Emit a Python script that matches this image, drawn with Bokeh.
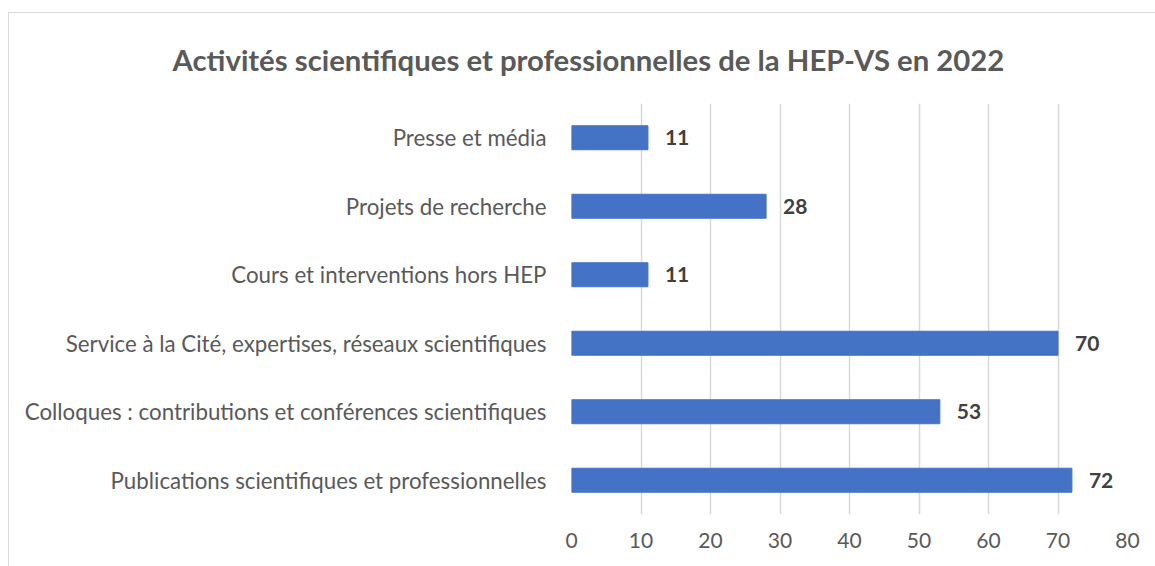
from bokeh.plotting import figure
from bokeh.models import ColumnDataSource, LabelSet, Range1d, FactorRange, FixedTicker
from bokeh.embed import file_html
from bokeh.resources import INLINE
from bokeh.core.properties import value

categories = [
    "Publications scientifiques et professionnelles",
    "Colloques : contributions et conférences scientifiques",
    "Service à la Cité, expertises, réseaux scientifiques",
    "Cours et interventions hors HEP",
    "Projets de recherche",
    "Presse et média",
]
values = [72, 53, 70, 11, 28, 11]
x_ticks = [0, 10, 20, 30, 40, 50, 60, 70, 80]
title_text = "Activités scientifiques et professionnelles de la HEP-VS en 2022"

FONT = "Lato"
src = ColumnDataSource(dict(cat=categories, val=values, lab=[str(v) for v in values]))

p = figure(
    width=1147, height=554,
    y_range=FactorRange(*categories, range_padding=0),
    x_range=Range1d(0, 80),
    output_backend="svg", toolbar_location=None,
    min_border_left=562, min_border_right=29, min_border_bottom=53, min_border_top=90,
)
p.styles = {"margin-top": "12px", "margin-left": "8px",
            "border-left": "1px solid #d9d9d9", "border-top": "1px solid #d9d9d9"}

p.title.text = title_text
p.title.align = "left"
p.title.offset = -399
p.title.vertical_align = "top"
p.title.text_font = FONT
p.title.text_font_size = "29.3px"
p.title.text_color = "#595959"
p.title.text_font_style = "bold"
p.title.standoff = 50

p.hbar(y="cat", right="val", left=0, height=0.35, source=src, color="#4472C4")

labels = LabelSet(x="val", y="cat", text="lab", source=src, x_offset=17, y_offset=0,
                  text_font=value(FONT), text_font_size="21px", text_font_style="bold",
                  text_color="#404040", text_baseline="middle", text_align="left")
p.add_layout(labels)

p.outline_line_color = None
p.ygrid.grid_line_color = None
p.xgrid.grid_line_color = "#d9d9d9"
p.xgrid.grid_line_width = 1.5
p.xaxis.ticker = FixedTicker(ticks=x_ticks)
p.xaxis.axis_line_color = None
p.xaxis.major_tick_line_color = None
p.xaxis.minor_tick_line_color = None
p.xaxis.major_label_standoff = 12
p.xaxis.major_label_text_font = FONT
p.xaxis.major_label_text_font_size = "21px"
p.xaxis.major_label_text_color = "#595959"

p.yaxis.axis_line_color = None
p.yaxis.major_tick_line_color = None
p.yaxis.major_label_standoff = 19
p.yaxis.major_label_text_font = FONT
p.yaxis.major_label_text_font_size = "22.3px"
p.yaxis.major_label_text_color = "#595959"

open("out.html", "w").write(file_html(p, INLINE))
